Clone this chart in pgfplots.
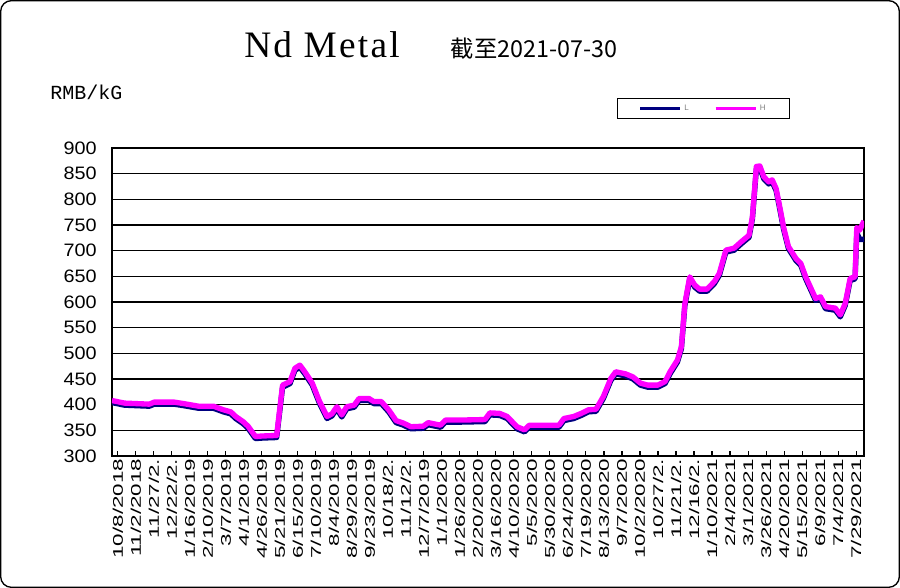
\documentclass[border=0pt]{standalone}
\usepackage{pgfplots}
\pgfplotsset{compat=1.18}
\usepackage{pgfplotstable}
\usepackage{fontspec}
\setmainfont{Liberation Sans}
\newfontfamily\titlefont[LetterSpace=6]{Liberation Serif}
\newfontfamily\cjkfont{Noto Sans CJK SC}
\newfontfamily\monofont{Liberation Mono}
\newfontfamily\tickfont[FakeStretch=1.6]{Liberation Sans}
\newfontfamily\ytickfont[FakeStretch=1.1]{Liberation Sans}
\definecolor{hmag}{RGB}{255,0,255}
\definecolor{lnavy}{RGB}{0,0,128}

\pgfplotstableread{
day val
-8 404
9.6 399
43.8 397
50.7 401
78.1 401
91.8 398
112.3 393
132.9 393
146.6 386
156.9 382
163.7 373
174.0 363
180.9 354
191.1 334
201.4 335
220.6 336
228.8 434
239.1 441
246.0 467
252.8 473
259.7 460
270.0 438
280.2 402
290.5 373
297.3 378
304.2 392
311.0 376
317.9 392
328.2 395
335.0 408
348.7 408
355.6 402
365.9 402
376.1 386
386.4 365
396.7 360
407.0 353
424.1 354
431.0 361
448.1 356
455.0 366
475.5 366
509.8 367
516.6 380
530.3 379
540.6 373
554.3 353
564.6 347
571.4 356
612.5 356
619.4 369
633.1 373
643.4 379
653.6 386
663.9 387
674.2 412
684.5 447
691.3 460
705.0 456
715.3 450
725.6 438
735.9 434
749.6 434
759.8 441
766.7 460
777.0 483
782.5 509
787.3 593
794.1 645
801.0 629
807.8 621
818.1 621
828.4 636
835.2 652
844.2 697
855.8 701
866.1 714
876.4 726
881.1 762
886.6 860
891.4 861
896.9 840
903.7 830
908.5 834
914.0 817
919.5 778
924.3 742
931.1 704
941.4 681
948.3 671
955.1 645
968.8 603
975.7 606
982.5 587
996.2 584
1003.1 571
1009.9 593
1016.8 642
1023.6 645
1026.0 735
1030.0 722
1036.0 722
}\Ldata

\pgfplotstableread{
day val
-8 408
9.6 403
43.8 401
50.7 405
78.1 405
91.8 402
112.3 397
132.9 397
146.6 390
156.9 386
163.7 377
174.0 367
180.9 358
191.1 338
201.4 339
220.6 340
228.8 438
239.1 445
246.0 471
252.8 477
259.7 464
270.0 442
280.2 406
290.5 377
297.3 382
304.2 396
311.0 380
317.9 396
328.2 399
335.0 412
348.7 412
355.6 406
365.9 406
376.1 390
386.4 369
396.7 364
407.0 357
424.1 358
431.0 365
448.1 360
455.0 370
475.5 370
509.8 371
516.6 384
530.3 383
540.6 377
554.3 357
564.6 351
571.4 360
612.5 360
619.4 373
633.1 377
643.4 383
653.6 390
663.9 391
674.2 416
684.5 451
691.3 464
705.0 460
715.3 454
725.6 442
735.9 438
749.6 438
759.8 445
766.7 464
777.0 487
782.5 513
787.3 597
794.1 649
801.0 633
807.8 625
818.1 625
828.4 640
835.2 656
844.2 701
855.8 705
866.1 718
876.4 730
881.1 766
886.6 864
891.4 865
896.9 844
903.7 834
908.5 838
914.0 821
919.5 782
924.3 746
931.1 708
941.4 685
948.3 675
955.1 649
968.8 607
975.7 610
982.5 591
996.2 588
1003.1 575
1009.9 597
1016.8 646
1023.6 649
1026.0 745
1030.0 740
1036.0 758
}\Hdata

\begin{document}
\begin{tikzpicture}
\draw[line width=1pt, rounded corners=8pt] (0.5pt,0.5pt) rectangle (674.5pt,440.5pt);
\node[anchor=base, font=\titlefont\fontsize{28}{30}\selectfont] at (241.5pt,397.5pt) {Nd Metal};
\node[anchor=base, font=\cjkfont\fontsize{17.5}{19}\selectfont] at (400.5pt,397.5pt) {截至2021-07-30};
\node[anchor=base west, font=\monofont\fontsize{15}{16}\selectfont, inner sep=0pt] at (37.5pt,366pt) {RMB/kG};
\begin{axis}[
  at={(84pt,99pt)}, anchor=south west,
  scale only axis, width=564pt, height=231pt,
  xmin=-8, xmax=1036, ymin=300, ymax=900,
  ytick={300,350,...,900},
  ymajorgrids, grid style={black, line width=1.1pt},
  axis line style={black, line width=0.8pt},
  xtick={0,25,...,1025},
  xticklabels={10/8/2018,11/2/2018,11/27/2.,12/22/2.,1/16/2019,2/10/2019,3/7/2019,4/1/2019,4/26/2019,5/21/2019,6/15/2019,7/10/2019,8/4/2019,8/29/2019,9/23/2019,10/18/2.,11/12/2.,12/7/2019,1/1/2020,1/26/2020,2/20/2020,3/16/2020,4/10/2020,5/5/2020,5/30/2020,6/24/2020,7/19/2020,8/13/2020,9/7/2020,10/2/2020,10/27/2.,11/21/2.,12/16/2.,1/10/2021,2/4/2021,3/1/2021,3/26/2021,4/20/2021,5/15/2021,6/9/2021,7/4/2021,7/29/2021},
  xtick pos=lower, ytick pos=left,
  ytick style={draw=none},
  xtick style={black, line width=0.8pt},
  major tick length=4pt, tick align=inside,
  xticklabel style={rotate=90, anchor=east, font=\tickfont\fontsize{10.5}{11}\selectfont, inner sep=2pt},
  yticklabel style={font=\ytickfont\fontsize{13.5}{14}\selectfont, xshift=-8pt},
  /pgf/number format/assume math mode=true,
  legend columns=2,
  legend style={at={(0.6715,1.162)}, anchor=north west, draw=black, line width=0.8pt,
    inner xsep=16pt, inner ysep=2.5pt,
    font=\fontsize{6}{7}\selectfont\color{gray},
    /tikz/every even column/.append style={column sep=17pt}},
  legend image code/.code={\draw[#1, line width=2.2pt] (0pt,0pt) -- (30pt,0pt);},
]
\addplot[lnavy, line width=4pt, line join=round] table[x=day,y=val]{\Ldata};
\addplot[hmag, line width=4pt, line join=round] table[x=day,y=val]{\Hdata};
\legend{L,H}
\end{axis}
\end{tikzpicture}
\end{document}
